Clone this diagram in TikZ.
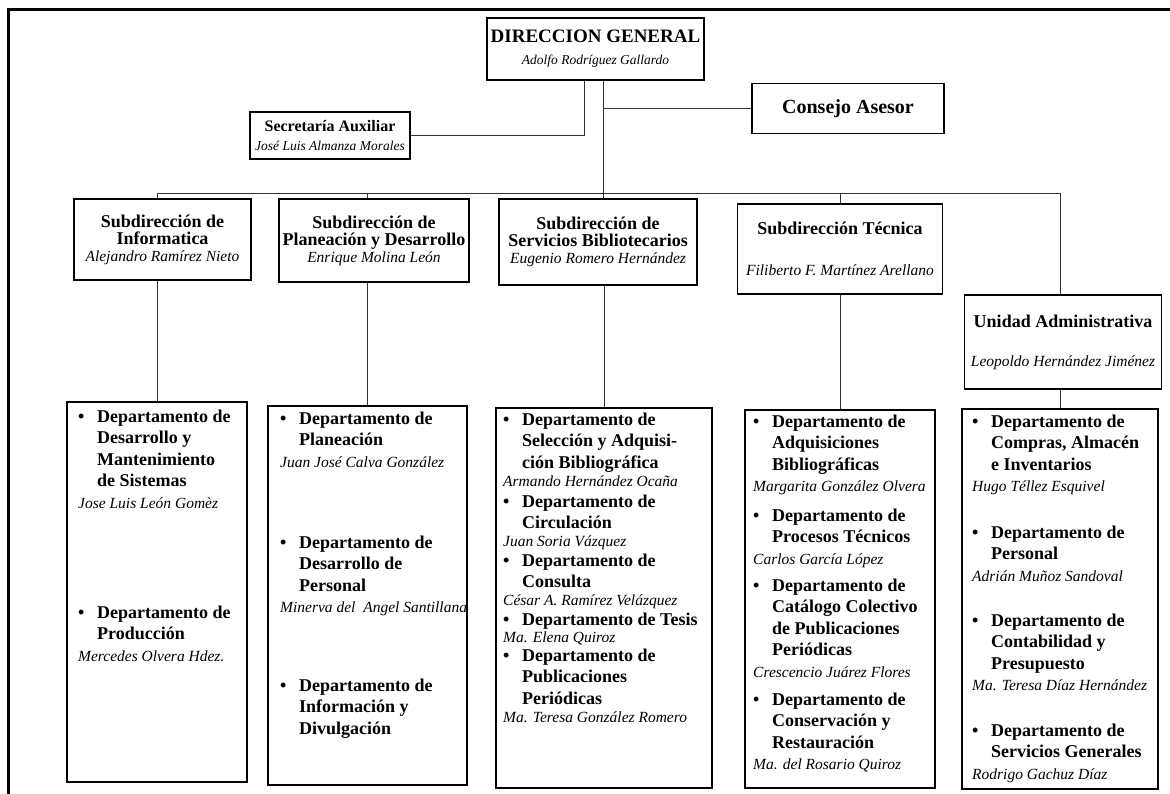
\documentclass[tikz,border=0pt]{standalone}
\usepackage{fontspec}
\setmainfont{Liberation Serif}
\usetikzlibrary{positioning}

\newcommand{\tit}{\bfseries\fontsize{18}{17}\selectfont}
\newcommand{\nom}[1]{{\mdseries\itshape\fontsize{15.5}{16}\selectfont #1}}
\newcommand{\nomc}[1]{{\mdseries\itshape\fontsize{13.5}{15}\selectfont #1}}
\newcommand{\dep}[3][0pt]{%
  \begin{tabular}[t]{@{}p{19pt}@{}l@{}}
    \textbullet & \begin{tabular}[t]{@{}l@{}}#2\end{tabular}\\[#1]
    \multicolumn{2}{@{}l@{}}{\nom{#3}}
  \end{tabular}}

\begin{document}
\begin{tikzpicture}[x=1pt, y=-1pt,
  caja/.style={draw, line width=1.1pt, inner sep=0pt, align=center, font=\tit},
  depto/.style={draw, line width=1.1pt, inner sep=0pt},
  lista/.style={anchor=base west, inner sep=0pt, font=\bfseries\fontsize{18}{21.5}\selectfont},
  linea/.style={line width=0.8pt, black!80}]

  \useasboundingbox (0,0) rectangle (1170,794);
  \draw [line width=3pt] (8,794) -- (8,10) -- (1170,10);

  \node (dg) [caja, minimum width=217, minimum height=62, font=\bfseries\fontsize{19}{22}\selectfont] at (595.5,49)
    {DIRECCION GENERAL\\ \nomc{Adolfo Rodríguez Gallardo}};
  \node (sec) [caja, minimum width=160, minimum height=47, font=\bfseries\fontsize{16}{19}\selectfont] at (330,135.5)
    {Secretaría Auxiliar\\ \nomc{José Luis Almanza Morales}};
  \node (ca) [caja, minimum width=192, minimum height=50, font=\bfseries\fontsize{20}{22}\selectfont] at (848,108.5)
    {Consejo Asesor};

  \node (inf) [caja, minimum width=177, minimum height=81] at (162.5,239.5)
    {Subdirección de\\ Informatica\\ \nom{Alejandro Ramírez Nieto}};
  \node (pla) [caja, minimum width=190, minimum height=83] at (374,240.5)
    {Subdirección de\\ Planeación y Desarrollo\\ \nom{Enrique Molina León}};
  \node (sib) [caja, minimum width=198, minimum height=86] at (598,242)
    {Subdirección de\\ Servicios Bibliotecarios\\ \nom{Eugenio Romero Hernández}};
  \node (tec) [caja, minimum width=205, minimum height=90] at (840,249)
    {Subdirección Técnica\\[24pt] \nom{Filiberto F. Martínez Arellano}};
  \node (ua) [caja, minimum width=197, minimum height=94] at (1063,342)
    {Unidad Administrativa\\[22pt] \nom{Leopoldo Hernández Jiménez}};

  \node (d1) [depto, minimum width=180, minimum height=380] at (157,592) {};
  \node (d2) [depto, minimum width=199, minimum height=379] at (367.5,595.5) {};
  \node (d3) [depto, minimum width=216, minimum height=380] at (604,598) {};
  \node (d4) [depto, minimum width=190, minimum height=378] at (840,599) {};
  \node (d5) [depto, minimum width=196, minimum height=380] at (1060,599) {};

  \node (d1a) [lista] at (78,422) {\dep{Departamento de\\ Desarrollo y\\ Mantenimiento\\ de Sistemas}{Jose Luis León Gomèz}};
  \node (d1b) [lista] at (78,618) {\dep{Departamento de\\ Producción}{Mercedes Olvera Hdez.}};

  \node (d2a) [lista] at (280,424) {\dep{Departamento de\\ Planeación}{Juan José Calva González}};
  \node (d2b) [lista] at (280,548) {\dep{Departamento de\\ Desarrollo de\\ Personal}{Minerva del\ \ Angel Santillana}};
  \node (d2c) [lista] at (280,691) {\dep{Departamento de\\ Información y\\ Divulgación}{}};

  \node (d3a) [lista] at (503,425) {\dep[-3.5pt]{Departamento de\\ Selección y Adquisi-\\ ción Bibliográfica}{Armando Hernández Ocaña}};
  \node (d3b) [lista] at (503,507) {\dep[-3.5pt]{Departamento de\\ Circulación}{Juan Soria Vázquez}};
  \node (d3c) [lista] at (503,566) {\dep[-3.5pt]{Departamento de\\ Consulta}{César A. Ramírez Velázquez}};
  \node (d3d) [lista] at (503,625.5) {\dep[-5pt]{Departamento de Tesis}{Ma. Elena Quiroz}};
  \node (d3e) [lista] at (503,661) {\dep[-3.5pt]{Departamento de\\ Publicaciones\\ Periódicas}{Ma. Teresa González Romero}};

  \node (d4a) [lista] at (753,427) {\dep{Departamento de\\ Adquisiciones\\ Bibliográficas}{Margarita González Olvera}};
  \node (d4b) [lista] at (753,521) {\dep{Departamento de\\ Procesos Técnicos}{Carlos García López}};
  \node (d4c) [lista] at (753,591) {\dep{Departamento de\\ Catálogo Colectivo\\ de Publicaciones\\ Periódicas}{Crescencio Juárez Flores}};
  \node (d4d) [lista] at (753,705) {\dep{Departamento de\\ Conservación y\\ Restauración}{Ma. del Rosario Quiroz}};

  \node (d5a) [lista] at (972,427) {\dep{Departamento de\\ Compras, Almacén\\ e Inventarios}{Hugo Téllez Esquivel}};
  \node (d5b) [lista] at (972,538) {\dep{Departamento de\\ Personal}{Adrián Muñoz Sandoval}};
  \node (d5c) [lista] at (972,626) {\dep{Departamento de\\ Contabilidad y\\ Presupuesto}{Ma. Teresa Díaz Hernández}};
  \node (d5d) [lista] at (972,736) {\dep{Departamento de\\ Servicios Generales}{Rodrigo Gachuz Díaz}};

  \coordinate (bus) at (0,193);

  \draw [linea] ([xshift=-11pt]dg.south) |- (sec.east);
  \draw [linea] ([xshift=8pt]dg.south) -- ([xshift=8pt]dg.south |- sib.north);
  \draw [linea] ([xshift=8pt]dg.south |- ca.west) -- (ca.west);
  \draw [linea] (d1.north |- bus) -- (d5.north |- bus);
  \draw [linea] (d1.north |- bus) -- (d1.north |- inf.north);
  \draw [linea] (d2.north |- bus) -- (d2.north |- pla.north);
  \draw [linea] (d4.north |- bus) -- (d4.north |- tec.north);
  \draw [linea] (d5.north |- bus) -- (d5.north |- ua.north);

  \draw [linea] (d1.north) -- (d1.north |- inf.south);
  \draw [linea] (d2.north) -- (d2.north |- pla.south);
  \draw [linea] (d3.north) -- (d3.north |- sib.south);
  \draw [linea] (d4.north) -- (d4.north |- tec.south);
  \draw [linea] (d5.north) -- (d5.north |- ua.south);

\end{tikzpicture}
\end{document}
